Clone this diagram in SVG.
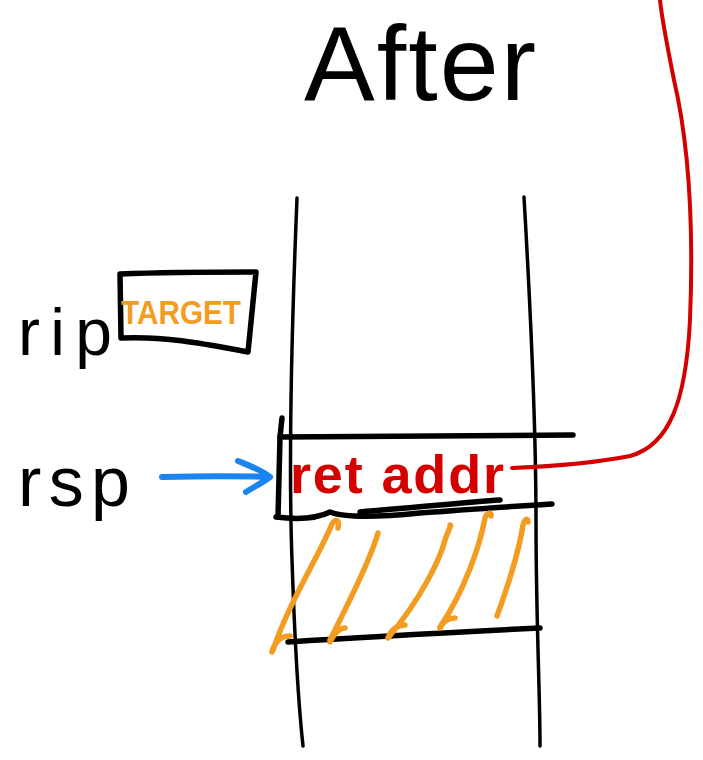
<svg xmlns="http://www.w3.org/2000/svg" width="703" height="760" viewBox="0 0 703 760">
<style>
.ink{fill:none;stroke:#000;stroke-width:5.5;stroke-linecap:round;stroke-linejoin:round}
.thin{fill:none;stroke:#000;stroke-width:3.5;stroke-linecap:round}
.hatch{fill:none;stroke:#f29d22;stroke-width:5.5;stroke-linecap:round;stroke-linejoin:round}
.lbl{font-family:"Liberation Sans",Arial,sans-serif;fill:#000}
</style>
<rect width="703" height="760" fill="#fff"/>
<g id="title">
<text class="lbl" x="304" y="100" font-size="106" textLength="232" lengthAdjust="spacing">After</text>
</g>
<g id="stack">
<path class="thin" d="M297,198 C292,320 288,450 292,560 C295,650 298,700 303,746"/>
<path class="thin" d="M524,197 C530,300 536,420 536,520 C536,620 540,690 540,746"/>
<path class="ink" d="M280,437 C380,436 480,435 573,435"/>
<path class="ink" d="M282,418 L280,437 L278,517"/>
<path class="ink" d="M276,517 C300,520 318,518 330,512 C340,516 360,519 420,513 C470,509 520,506 552,504"/>
<path class="ink" d="M360,512 C420,507 470,502 500,500"/>
<path class="ink" d="M288,642 C380,636 460,632 540,628"/>
</g>
<g id="hatching">
<path class="hatch" d="M272,652 C275,640 283,636 290,636 M273,650 C290,600 318,558 332,524 C335,518 340,520 338,528"/>
<path class="hatch" d="M330,642 C335,632 340,628 345,628 M330,640 C350,600 370,560 378,533"/>
<path class="hatch" d="M388,638 C392,628 398,625 405,625 M388,638 C420,600 440,560 445,540 C448,530 452,525 450,525"/>
<path class="hatch" d="M440,628 C444,620 450,618 455,618 M440,627 C465,590 480,545 485,518 C487,512 492,512 491,516"/>
<path class="hatch" d="M497,616 C510,580 520,545 523,525 C525,518 528,518 528,522"/>
</g>
<g id="rip">
<text class="lbl" x="18" y="355" font-size="66" textLength="94" lengthAdjust="spacing">rip</text>
</g>
<g id="target">
<path class="ink" d="M120,274 C170,272 210,272 256,272 L248,352 C210,345 170,336 121,338 L120,274"/>
<text x="121" y="324" font-family="'Liberation Sans',Arial,sans-serif" font-weight="bold" font-size="34" fill="#f29d22" textLength="120" lengthAdjust="spacingAndGlyphs">TARGET</text>
</g>
<g id="rsp">
<text class="lbl" x="18" y="506" font-size="70" textLength="112" lengthAdjust="spacing">rsp</text>
</g>
<g id="retaddr">
<text x="290" y="493" font-family="'Liberation Sans',Arial,sans-serif" font-weight="bold" font-size="54" fill="#d40000" textLength="214" lengthAdjust="spacing">ret addr</text>
</g>
<g id="connectors">
<path d="M162,477 C200,476 240,476 270,477 M238,461 C250,466 262,470 270,477 C262,483 252,488 246,492" fill="none" stroke="#1a84ef" stroke-width="6" stroke-linecap="round" stroke-linejoin="round"/>
<path d="M512,468 C560,466 600,462 630,456 C670,445 686,400 690,320 C694,220 688,140 674,80 C668,50 662,20 660,0" fill="none" stroke="#d40000" stroke-width="4" stroke-linecap="round"/>
</g>
</svg>
